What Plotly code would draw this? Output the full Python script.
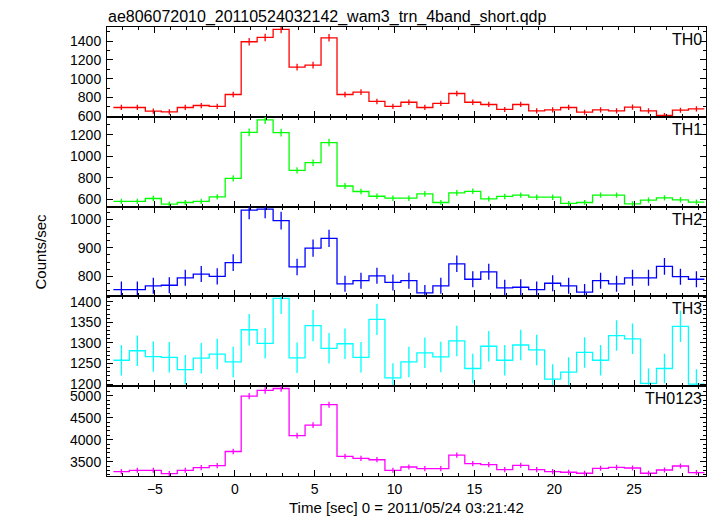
import plotly.graph_objects as go
from plotly.subplots import make_subplots

time = [-7.1, -6.1, -5.1, -4.1, -3.1, -2.1, -1.1, -0.1, 0.9, 1.9, 2.9, 3.9, 4.9, 5.9,
        6.9, 7.9, 8.9, 9.9, 10.9, 11.9, 12.9, 13.9, 14.9, 15.9, 16.9, 17.9, 18.9,
        19.9, 20.9, 21.9, 22.9, 23.9, 24.9, 25.9, 26.9, 27.9, 28.9]
bin_width = 1.0

th0 = [694, 694, 655, 647, 694, 715, 705, 832, 1393, 1439, 1525, 1123, 1144, 1435,
       832, 857, 758, 705, 750, 694, 737, 843, 750, 726, 673, 726, 658, 669, 694,
       644, 669, 658, 697, 658, 609, 665, 679]
th0_err = [28, 28, 27, 27, 28, 28, 28, 30, 39, 40, 41, 35, 36, 40, 30, 31, 29, 28, 29,
           28, 28, 30, 29, 28, 27, 28, 27, 27, 28, 27, 27, 27, 28, 27, 26, 27, 28]

th1 = [582, 582, 609, 557, 572, 582, 624, 796, 1223, 1338, 1220, 870, 941, 1128,
       725, 674, 630, 612, 612, 652, 572, 661, 676, 606, 628, 640, 621, 621, 563,
       572, 640, 640, 560, 594, 615, 597, 575]
th1_err = [24, 24, 25, 24, 24, 24, 25, 29, 36, 38, 36, 30, 31, 35, 27, 26, 25, 25, 25,
           26, 24, 26, 26, 25, 25, 25, 25, 25, 24, 24, 25, 25, 24, 24, 25, 25, 24]

th2 = [754, 754, 767, 769, 795, 808, 800, 848, 1032, 1035, 995, 833, 899, 933, 774,
       785, 802, 779, 785, 742, 767, 844, 790, 816, 760, 762, 754, 776, 767, 745,
       785, 774, 795, 795, 835, 799, 790]
th2_err = [28, 28, 28, 28, 28, 28, 28, 29, 32, 32, 31, 29, 30, 30, 28, 28, 28, 28, 28,
           28, 28, 29, 28, 28, 28, 28, 28, 28, 28, 28, 28, 28, 28, 28, 29, 28, 28]

th3 = [1258, 1281, 1267, 1265, 1235, 1263, 1273, 1254, 1332, 1299, 1408, 1264, 1342,
       1287, 1298, 1265, 1357, 1215, 1254, 1276, 1266, 1305, 1238, 1292, 1258, 1295,
       1283, 1212, 1229, 1277, 1258, 1318, 1310, 1202, 1238, 1340, 1200]
th3_err = [37, 37, 37, 37, 36, 37, 37, 37, 38, 37, 38, 37, 38, 37, 37, 37, 38, 36, 37,
           37, 37, 37, 36, 37, 37, 37, 37, 36, 36, 37, 37, 37, 37, 36, 36, 38, 36]

th0123 = [3276, 3306, 3306, 3231, 3306, 3366, 3411, 3733, 4993, 5121, 5166, 4093, 4334,
          4798, 3621, 3576, 3546, 3306, 3381, 3344, 3344, 3651, 3456, 3434, 3321, 3419,
          3321, 3276, 3261, 3238, 3351, 3373, 3358, 3238, 3313, 3403, 3253]
th0123_err = [58, 58, 58, 57, 58, 58, 59, 61, 71, 72, 72, 64, 66, 69, 60, 60, 60, 58, 58,
              58, 58, 60, 59, 59, 58, 58, 58, 58, 57, 57, 58, 58, 58, 57, 58, 58, 57]

panels = [
    ("TH0", th0, th0_err, "#ff0000", [595, 1550], 200, 100),
    ("TH1", th1, th1_err, "#00ff00", [534, 1367], 200, 100),
    ("TH2", th2, th2_err, "#0000ff", [730, 1044], 100, 25),
    ("TH3", th3, th3_err, "#00ffff", [1195, 1413], 50, 10),
    ("TH0123", th0123, th0123_err, "#ff00ff", [3176, 5218], 500, 100),
]

x_range = [-8.0, 29.5]
font_family = "Liberation Sans, Arial, sans-serif"

fig = make_subplots(rows=5, cols=1, shared_xaxes=True, vertical_spacing=0)

for i, (name, vals, errs, color, yr, dt, mdt) in enumerate(panels, start=1):
    edges = [t - bin_width / 2 for t in time] + [time[-1] + bin_width / 2]
    step_y = vals + [vals[-1]]
    fig.add_trace(go.Scatter(x=edges, y=step_y, mode="lines", line_shape="hv",
                             line=dict(color=color, width=1.3), showlegend=False,
                             hoverinfo="skip"), row=i, col=1)
    fig.add_trace(go.Scatter(x=time, y=vals, mode="markers",
                             marker=dict(size=0.1, color=color),
                             error_y=dict(type="data", array=errs, color=color,
                                          thickness=1.3, width=0),
                             showlegend=False, name=name), row=i, col=1)
    fig.update_yaxes(range=yr, dtick=dt, tick0=0, row=i, col=1,
                     showgrid=False, zeroline=False, showline=True, linecolor="black",
                     linewidth=1, mirror="allticks", ticks="inside", ticklen=6,
                     tickcolor="black", tickfont=dict(size=14, color="black", family=font_family),
                     minor=dict(dtick=mdt, tick0=0, ticks="inside", ticklen=3,
                                tickcolor="black", showgrid=False),
                     ticklabelstandoff=2)
    fig.update_xaxes(range=x_range, dtick=5, tick0=0, row=i, col=1,
                     showgrid=False, zeroline=False, showline=True, linecolor="black",
                     linewidth=1, mirror="allticks", ticks="inside", ticklen=6,
                     tickcolor="black", tickfont=dict(size=14, color="black", family=font_family),
                     minor=dict(dtick=1, tick0=0, ticks="inside", ticklen=3,
                                tickcolor="black", showgrid=False),
                     showticklabels=(i == 5))
    yd = fig.layout["yaxis" + ("" if i == 1 else str(i))].domain
    fig.add_annotation(text=name, xref="paper", yref="paper", x=1, y=yd[1],
                       xanchor="right", yanchor="top", xshift=-2, yshift=-2,
                       showarrow=False, font=dict(size=16, color="black", family=font_family))

fig.add_annotation(text="ae806072010_20110524032142_wam3_trn_4band_short.qdp",
                   xref="paper", yref="paper", x=0, y=1, xanchor="left", yanchor="bottom",
                   yshift=0, borderpad=0, showarrow=False,
                   font=dict(size=16, color="black", family=font_family))
fig.add_annotation(text="Counts/sec", xref="paper", yref="paper", x=0, y=0.5,
                   xanchor="center", yanchor="middle", xshift=-67, textangle=-90,
                   showarrow=False, font=dict(size=15, color="black", family=font_family))
fig.add_annotation(text="Time [sec] 0 = 2011/05/24 03:21:42", xref="paper", yref="paper",
                   x=0.5, y=0, xanchor="center", yanchor="top", yshift=-21,
                   showarrow=False, font=dict(size=15, color="black", family=font_family))

# The page body adds an 8 px offset, so the figure is sized to fit the 717x516 window.
fig.update_layout(width=709, height=508, margin=dict(l=99, r=11, t=19, b=40),
                  plot_bgcolor="white", paper_bgcolor="white",
                  font=dict(family=font_family, color="black"))

fig.write_html("out.html")
